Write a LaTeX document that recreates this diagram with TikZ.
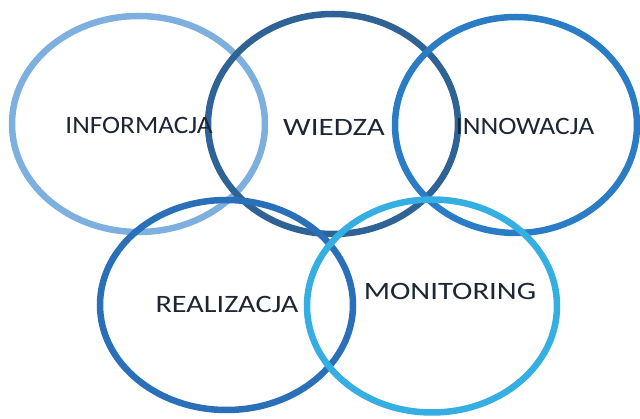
\documentclass[tikz,border=0pt]{standalone}
\usepackage{fontspec}
\setmainfont{Carlito}
\usetikzlibrary{shapes.geometric}
\definecolor{ringA}{HTML}{7DB0DE}
\definecolor{ringB}{HTML}{2F6396}
\definecolor{ringC}{HTML}{2A7CC4}
\definecolor{ringD}{HTML}{2A70B8}
\definecolor{ringE}{HTML}{35AEE2}
\definecolor{labeltext}{HTML}{1C2634}
\begin{document}
\begin{tikzpicture}[x=1pt,y=-1pt,
  ring/.style={ellipse, draw, line width=6.5pt, inner sep=0pt},
  lbl/.style={anchor=base, inner sep=0pt, text=labeltext,
    font=\fontsize{25}{28}\selectfont}]
\useasboundingbox (0,0) rectangle (640,419);
% rings, drawn left to right, top row first
\node[ring, draw=ringA, minimum width=253pt, minimum height=216pt] (info) at (138.5,124) {};
\node[ring, draw=ringB, minimum width=250pt, minimum height=220pt] (wiedza) at (333,124) {};
\node[ring, draw=ringC, minimum width=242pt, minimum height=216pt] (innow) at (516,125) {};
\node[ring, draw=ringD, minimum width=253pt, minimum height=210pt] (real) at (226.5,305) {};
\node[ring, draw=ringE, minimum width=250pt, minimum height=213pt] (monit) at (432,306) {};
% labels
\node[lbl] (tinfo) at (139,134) {\scalebox{1.09}[1]{INFORMACJA}};
\node[lbl] (twiedza) at (334,136) {\scalebox{1.24}[1]{WIEDZA}};
\node[lbl] (tinnow) at (525,135) {\scalebox{1.10}[1]{INNOWACJA}};
\node[lbl] (treal) at (227,313) {\scalebox{1.21}[1]{REALIZACJA}};
\node[lbl] (tmonit) at (450,300) {\scalebox{1.23}[1]{MONITORING}};
\end{tikzpicture}
\end{document}
